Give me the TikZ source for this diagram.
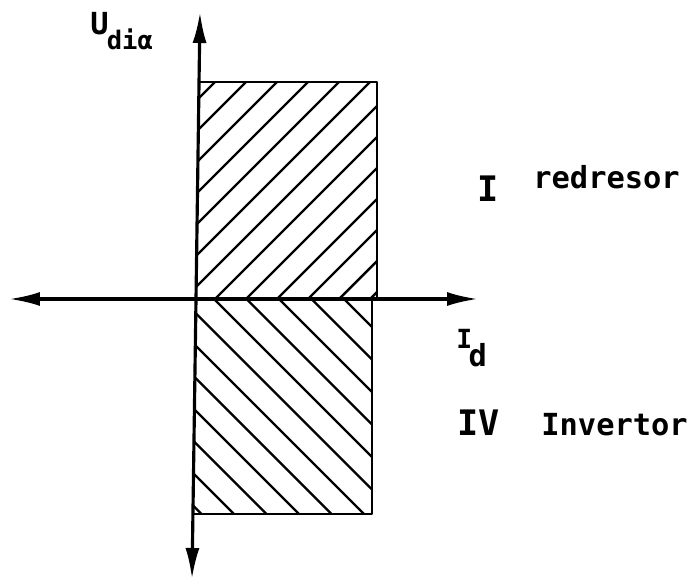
\documentclass[tikz,border=0pt]{standalone}
\usepackage{fontspec}
\newfontfamily\lettering{DejaVu Sans Mono}
\usetikzlibrary{arrows.meta}
\begin{document}
\begin{tikzpicture}[x=0.02cm,y=-0.02cm,
  axisline/.style={line width=1.8pt, -{Latex[length=0.62cm,width=0.28cm]}},
  hatchline/.style={line width=1.4pt},
  boxedge/.style={line width=1.6pt, line join=round},
  lbl/.style={inner sep=0pt, font=\lettering\bfseries\fontsize{17.3}{21}\selectfont},
  biglbl/.style={inner sep=0pt, font=\lettering\bfseries\fontsize{20}{23}\selectfont}]
\useasboundingbox (0,0) rectangle (692,581);
% axes
\coordinate (O) at (196,299);
\coordinate (top) at (200,12);
\coordinate (bot) at (192,579);
\coordinate (left) at (9,299);
\coordinate (right) at (478,299);
% upper rectangle
\coordinate (UA) at (199,82);
\coordinate (UB) at (377,82);
\coordinate (UC) at (377,299);
% lower rectangle
\coordinate (LA) at (372,299);
\coordinate (LB) at (372,514);
\coordinate (LC) at (193,514);
\begin{scope}
  \clip (UA) -- (UB) -- (UC) -- (O) -- cycle;
  \foreach \k in {-9,...,6}
    \draw[hatchline] ({215+31*\k-300},599) -- ({215+31*\k+300},-1);
\end{scope}
\begin{scope}
  \clip (O) -- (LA) -- (LB) -- (LC) -- cycle;
  \foreach \k in {-9,...,6}
    \draw[hatchline] ({214+32.5*\k-300},-1) -- ({214+32.5*\k+300},599);
\end{scope}
\draw[boxedge] (UA) -- (UB) -- (UC);
\draw[boxedge] (LA) -- (LB) -- (LC);
\draw[axisline] (O) -- (top);
\draw[axisline] (O) -- (bot);
\draw[axisline] (O) -- (left);
\draw[axisline] (O) -- (right);
% labels
\node[lbl, anchor=base west] (udi) at (90,35) {U\kern-1pt\raisebox{-8pt}{\fontsize{14.5}{17}\selectfont diα}};
\node[biglbl, anchor=base] (q1) at (488,201) {I};
\node[lbl, anchor=base west] (red) at (533,188) {redresor};
\node[lbl, anchor=base west] (id) at (456,348) {{\fontsize{15}{18}\selectfont I}\kern-2pt\raisebox{-10.5pt}{d}};
\node[biglbl, anchor=base west] (q4) at (457,435) {IV};
\node[lbl, anchor=base west] (inv) at (541,435) {Invertor};
\end{tikzpicture}
\end{document}
